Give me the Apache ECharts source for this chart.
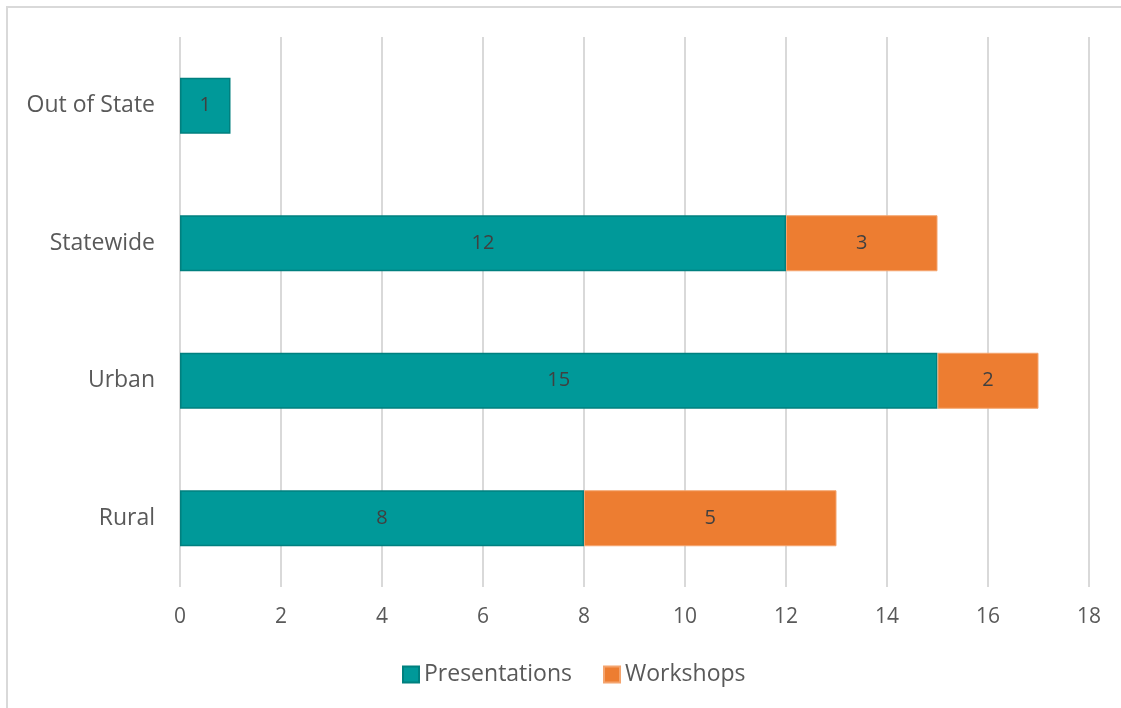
<!DOCTYPE html>
<html>
<head>
<meta charset="utf-8">
<script src="https://cdn.jsdelivr.net/npm/echarts@6/dist/echarts.min.js"></script>
<style>
html,body{margin:0;padding:0;background:#fff;}
#c{width:1121px;height:708px;}
</style>
</head>
<body>
<div id="c"></div>
<script>
const categories = ['Rural', 'Urban', 'Statewide', 'Out of State'];
const presentations = [8, 15, 12, 1];
const workshops = [5, 2, 3, null];
const xTicks = [0, 2, 4, 6, 8, 10, 12, 14, 16, 18];

const FONT = '"Open Sans", "Noto Sans", sans-serif';
const chart = echarts.init(document.getElementById('c'), null, {renderer: 'canvas'});
chart.setOption({
  animation: false,
  backgroundColor: '#ffffff',
  textStyle: {fontFamily: FONT},
  graphic: [{
    type: 'rect',
    shape: {x: 7, y: 7, width: 1200, height: 800},
    style: {fill: 'none', stroke: '#d9d9d9', lineWidth: 2},
    silent: true,
    z: -10
  }],
  grid: {left: 180, right: 32, top: 37, bottom: 121, containLabel: false},
  legend: {
    bottom: 22,
    left: 402,
    padding: 0,
    itemWidth: 16,
    itemHeight: 16,
    itemGap: 31,
    icon: 'rect',
    textStyle: {fontFamily: FONT, fontSize: 23, color: '#595959', padding: [0, 0, 0, 0]},
    data: ['Presentations', 'Workshops']
  },
  xAxis: {
    type: 'value',
    min: xTicks[0],
    max: xTicks[xTicks.length - 1],
    interval: 2,
    axisLine: {show: false},
    axisTick: {show: false},
    axisLabel: {fontFamily: FONT, fontSize: 21, color: '#595959', margin: 20},
    splitLine: {show: true, lineStyle: {color: '#d9d9d9', width: 2}}
  },
  yAxis: {
    type: 'category',
    data: categories,
    axisLine: {show: false},
    axisTick: {show: false},
    axisLabel: {fontFamily: FONT, fontSize: 23, color: '#595959', margin: 25},
    splitLine: {show: false}
  },
  series: [{
    name: 'Presentations',
    type: 'bar',
    stack: 'total',
    barWidth: 56,
    data: presentations,
    itemStyle: {color: '#009999', borderColor: '#00807f', borderWidth: 1.5},
    label: {show: true, position: 'inside', fontFamily: FONT, fontSize: 20, color: '#404040'}
  }, {
    name: 'Workshops',
    type: 'bar',
    stack: 'total',
    barWidth: 56,
    data: workshops,
    itemStyle: {color: '#ED7D31', borderColor: '#F4A46E', borderWidth: 1},
    label: {show: true, position: 'inside', fontFamily: FONT, fontSize: 20, color: '#404040'}
  }]
});
</script>
</body>
</html>
